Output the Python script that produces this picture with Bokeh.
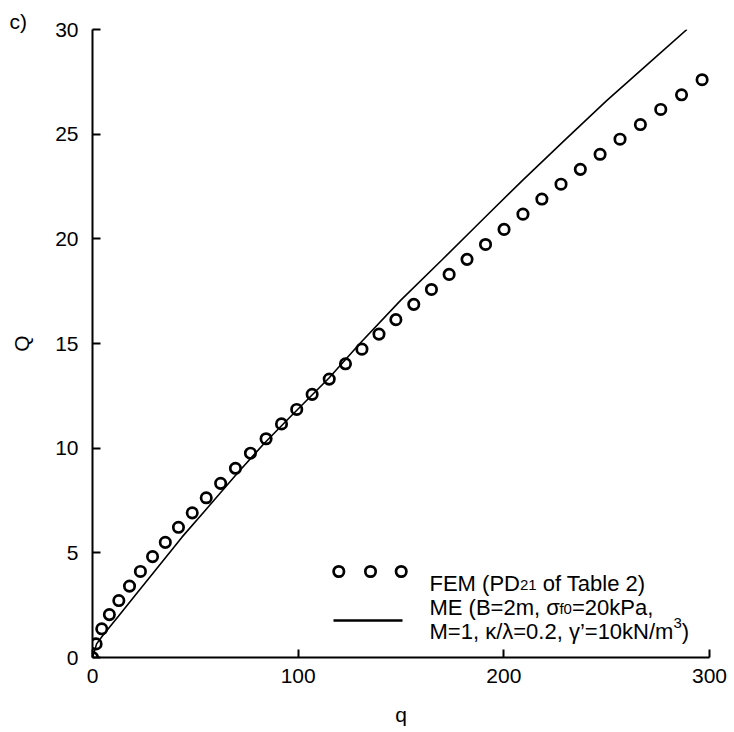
from bokeh.plotting import figure
from bokeh.models import Range1d, FixedTicker, Label
from bokeh.embed import file_html
from bokeh.resources import INLINE

# FEM load-displacement results (PD21 of Table 2)
fem_q = [0, 1.75, 4.5, 8.2, 12.8, 18.0, 23.3, 29.2, 35.4, 41.8, 48.5, 55.3, 62.3,
         69.5, 76.8, 84.4, 91.9, 99.3, 106.8, 115.1, 123.0, 131.0, 139.3, 147.5,
         156.2, 164.8, 173.4, 182.1, 191.1, 200.1, 209.3, 218.5, 227.8, 237.2,
         246.8, 256.5, 266.4, 276.3, 286.4, 296.4]
fem_Q = [0, 0.65, 1.37, 2.05, 2.72, 3.41, 4.11, 4.82, 5.50, 6.22, 6.91, 7.63, 8.32,
         9.04, 9.76, 10.45, 11.16, 11.85, 12.57, 13.30, 14.03, 14.73, 15.45, 16.14,
         16.87, 17.58, 18.30, 19.02, 19.73, 20.45, 21.18, 21.90, 22.61, 23.32,
         24.04, 24.76, 25.46, 26.18, 26.88, 27.60]

# ME prediction
me_q = [0, 2, 5, 12.6, 20, 30, 43.5, 55, 70, 83.2, 96.2, 115, 130, 149.8, 170,
        190, 209.1, 230, 250, 270, 289]
me_Q = [0, 0.65, 1.05, 1.97, 2.88, 4.1, 5.75, 7.05, 8.75, 10.2, 11.5, 13.35, 15.0,
        17.06, 19.0, 20.95, 22.79, 24.75, 26.6, 28.35, 30.0]

x_ticks = [0, 100, 200, 300]
y_ticks = [0, 5, 10, 15, 20, 25, 30]

panel_tag = "c)"
x_label = "q"
y_label = "Q"
legend_fem = ("FEM (PD", "21", " of Table 2)")
legend_me_1 = ("ME (B=2m, σ", "f0", "=20kPa,")
legend_me_2 = ("M=1, κ/λ=0.2, γ’=10kN/m", "3", ")")

FONT = "Liberation Sans"

# canvas geometry
W, H = 734, 732
BL, BR, BT, BB = 92, 25, 29, 75
X0, X1 = 0, 300
Y0, Y1 = 0, 30
FW, FH = W - BL - BR, H - BT - BB


def to_data(px, py):
    """Canvas pixel position -> data coordinates (for legend placement)."""
    return (X0 + (px - BL) / FW * (X1 - X0), Y1 - (py - BT) / FH * (Y1 - Y0))


# advance widths (1/1000 em) of the sans font, used to chain text runs
ADV = {' ': 278, '(': 333, ')': 333, ',': 278, '.': 278, '=': 584, '/': 278,
       '’': 222, 'B': 667, 'D': 722, 'E': 667, 'F': 611, 'M': 833, 'N': 722,
       'P': 667, 'T': 611, 'a': 556, 'b': 556, 'e': 556, 'f': 278, 'k': 500,
       'l': 222, 'm': 833, 'o': 556, 'σ': 600, 'κ': 500, 'λ': 500, 'γ': 500}


def run_width(s, size):
    return sum(ADV.get(c, 556) for c in s) * size / 1000.0


p = figure(width=W, height=H, x_range=Range1d(X0, X1), y_range=Range1d(Y0, Y1),
           output_backend="svg", toolbar_location=None,
           min_border_left=BL, min_border_right=BR,
           min_border_top=BT, min_border_bottom=BB,
           x_axis_label=x_label, y_axis_label=y_label, title=panel_tag)
p.grid.visible = False
p.outline_line_color = None
p.background_fill_color = "white"
p.border_fill_color = "white"

p.title.text_font = FONT
p.title.text_font_size = "21px"
p.title.text_font_style = "normal"
p.title.text_color = "black"
p.title.align = "left"
p.title.offset = -83
p.title.standoff = -7

for ax in (p.xaxis[0], p.yaxis[0]):
    ax.axis_line_color = "black"
    ax.axis_line_width = 2
    ax.major_tick_line_color = "black"
    ax.major_tick_line_width = 2
    ax.major_tick_in = 8
    ax.major_tick_out = 0
    ax.minor_tick_line_color = None
    ax.major_label_text_font = FONT
    ax.major_label_text_font_size = "21px"
    ax.major_label_text_color = "black"
    ax.axis_label_text_font = FONT
    ax.axis_label_text_font_size = "21px"
    ax.axis_label_text_font_style = "normal"
    ax.axis_label_text_color = "black"

p.xaxis.ticker = FixedTicker(ticks=x_ticks)
p.yaxis.ticker = FixedTicker(ticks=y_ticks)
p.xaxis.major_label_standoff = 11
p.xaxis.axis_label_standoff = 17
p.yaxis.major_label_standoff = 14
p.yaxis.axis_label_standoff = 19
p.yaxis.major_label_orientation = "horizontal"

# ME curve and FEM points
p.line(me_q, me_Q, line_color="black", line_width=1.6)
p.scatter(fem_q, fem_Q, marker="circle", size=10.4, fill_color=None,
          line_color="black", line_width=2.7)

# legend samples
sample_px = [338.3, 370.0, 400.7]
sx, sy = zip(*[to_data(x, 571) for x in sample_px])
p.scatter(list(sx), list(sy), marker="circle", size=10.4, fill_color=None,
          line_color="black", line_width=2.7)
l0 = to_data(333, 620)
l1 = to_data(402, 620)
p.line([l0[0], l1[0]], [l0[1], l1[1]], line_color="black", line_width=2.5)


def add_run(px, py, text, size):
    lead = len(text) - len(text.lstrip(" "))
    px += run_width(" " * lead, size)
    x, y = to_data(px, py)
    p.add_layout(Label(x=x, y=y, text=text.lstrip(" "), text_font=FONT,
                       text_font_size=f"{size}px", text_color="black",
                       text_baseline="alphabetic", text_align="left"))


def add_line(px, py, runs, dy):
    """runs: (main, small, main); the small run is shifted by dy pixels."""
    big, small = 22, 15
    add_run(px, py, runs[0], big)
    x = px + run_width(runs[0], big)
    add_run(x, py + dy, runs[1], small)
    x += run_width(runs[1], small)
    add_run(x, py, runs[2], big)


add_line(429, 582.7, legend_fem, 1.5)
add_line(429, 606.7, legend_me_1, 1.5)
add_line(429, 630.7, legend_me_2, -8)

open("out.html", "w").write(file_html(p, INLINE))
